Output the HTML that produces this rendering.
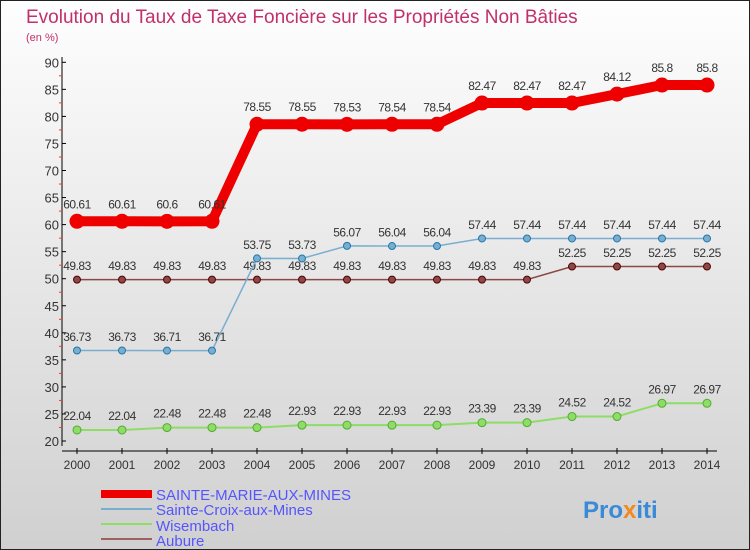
<!DOCTYPE html>
<html><head><meta charset="utf-8"><style>
body{margin:0}
#c{position:relative;width:750px;height:550px;background:linear-gradient(#fefefe,#d0d0d0);border:1px solid #222;box-sizing:border-box;overflow:hidden;font-family:"Liberation Sans",sans-serif}
</style></head><body>
<div id="c">
<svg width="750" height="550" id="s">
<text x="25" y="22" font-size="19" fill="#c0306a">Evolution du Taux de Taxe Foncière sur les Propriétés Non Bâties</text>
<text x="25" y="40" font-size="11" fill="#c0306a">(en %)</text>
<g id="axes"></g><g id="series"></g>
<g>
<rect x="100" y="489" width="51" height="8" fill="#e00"/>
<text x="155" y="499" font-size="15" fill="#55f">SAINTE-MARIE-AUX-MINES</text>
<rect x="100" y="507" width="51" height="2" fill="#7aaed0"/>
<text x="155" y="514" font-size="15" fill="#55f">Sainte-Croix-aux-Mines</text>
<rect x="100" y="522" width="51" height="2" fill="#8ddd66"/>
<text x="155" y="530" font-size="15" fill="#55f">Wisembach</text>
<rect x="100" y="537" width="51" height="2" fill="#a06060"/>
<text x="155" y="545" font-size="15" fill="#55f">Aubure</text>
</g>
<text x="582" y="517" font-size="24" font-weight="bold" fill="#3a8ad8">Pro<tspan fill="#f08a20">x</tspan>iti</text>
</svg></div>
<script>
const years=[2000,2001,2002,2003,2004,2005,2006,2007,2008,2009,2010,2011,2012,2013,2014];
const yTicks=[20,25,30,35,40,45,50,55,60,65,70,75,80,85,90];
const sainteMarie=[60.61,60.61,60.6,60.61,78.55,78.55,78.53,78.54,78.54,82.47,82.47,82.47,84.12,85.8,85.8];
const sainteCroix=[36.73,36.73,36.71,36.71,53.75,53.73,56.07,56.04,56.04,57.44,57.44,57.44,57.44,57.44,57.44];
const wisembach=[22.04,22.04,22.48,22.48,22.48,22.93,22.93,22.93,22.93,23.39,23.39,24.52,24.52,26.97,26.97];
const aubure=[49.83,49.83,49.83,49.83,49.83,49.83,49.83,49.83,49.83,49.83,49.83,52.25,52.25,52.25,52.25];
const NS="http://www.w3.org/2000/svg";
const X=i=>76+i*45;
const Y=v=>440-(v-20)*5.41;
function mk(t,a,p){const e=document.createElementNS(NS,t);for(const k in a)e.setAttribute(k,a[k]);p.appendChild(e);return e;}
const ax=document.getElementById('axes');
let l=mk('line',{x1:61,y1:56,x2:61,y2:445,stroke:'#000'},ax);


l=mk('line',{x1:61,y1:450,x2:716,y2:450,stroke:'#000'},ax);


yTicks.forEach(v=>{
 mk('line',{x1:61,y1:Y(v),x2:65,y2:Y(v),stroke:'#000'},ax);
 if(v<90)mk('line',{x1:58,y1:Y(v+2.5),x2:61,y2:Y(v+2.5),stroke:'#f33'},ax);
 const t=mk('text',{x:58,y:Y(v)+5,'font-size':13,'text-anchor':'end',fill:'#333'},ax);t.textContent=v;
 
 
});
years.forEach((yr,i)=>{
 mk('line',{x1:X(i),y1:447,x2:X(i),y2:453,stroke:'#000'},ax);
 const t=mk('text',{x:X(i),y:468,'font-size':12,'text-anchor':'middle',fill:'#333'},ax);t.textContent=yr;
 
 
});
const sg=document.getElementById('series');
function draw(vals,name,color,w,r,stroke){
 const g=mk('g',{},sg);
 
 
 mk('polyline',{points:vals.map((v,i)=>X(i)+','+Y(v)).join(' '),fill:'none',stroke:color,'stroke-width':w},g);
 vals.forEach((v,i)=>{
  const c=mk('circle',{cx:X(i),cy:Y(v),r:r,fill:color,stroke:stroke,'stroke-width':1},g);
  
  
  const t=mk('text',{x:X(i),y:Y(v)-(r+6),'font-size':12,'text-anchor':'middle',fill:'#333','letter-spacing':'-0.5'},g);t.textContent=v;
  
  
 });
}
draw(wisembach,'wisembach','#8ddd66',2,4,'#5a3');
draw(aubure,'aubure','#8a4848',1.5,3.5,'#500');
draw(sainteCroix,'sainte-croix','#7aaed0',1.5,3.5,'#27a');
draw(sainteMarie,'sainte-marie','#e00',10,7,'#e00');
</script>
</body></html>
